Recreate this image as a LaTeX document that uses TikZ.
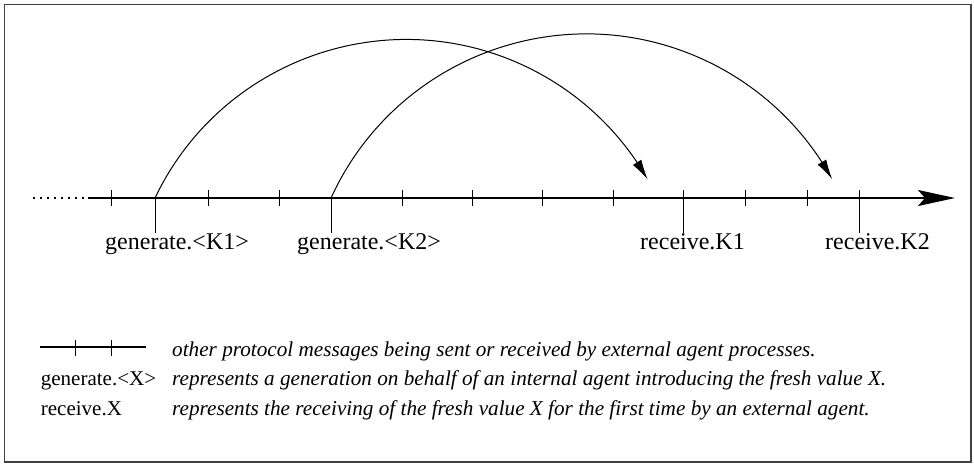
\documentclass[tikz,border=0pt]{standalone}
\usepackage{fontspec}
\setmainfont{Liberation Serif}
\usetikzlibrary{arrows.meta,bending}
\begin{document}
\begin{tikzpicture}[x=1pt,y=-1pt,
  tick/.style={line width=1pt},
  axisline/.style={line width=2pt},
  flow/.style={line width=1pt,-{Latex[length=20pt,width=10pt]}},
  lbl/.style={font=\fontsize{24}{28}\selectfont, anchor=base west, inner sep=0pt},
  leg/.style={font=\fontsize{21}{25}\selectfont, anchor=base west, inner sep=0pt},
  legit/.style={font=\fontsize{21.2}{25}\selectfont\itshape, anchor=base west, inner sep=0pt}]
\useasboundingbox (0,0) rectangle (974,467);
\draw[black!75, line width=1.5pt] (4.5,4.5) rectangle (971,462);

% time axis
\coordinate (d) at (33,198);
\coordinate (s) at (88,198);
\coordinate (e) at (955,198);
\draw[line width=1.5pt, dash pattern=on 1.5pt off 5.5pt] (d) -- (s);
\draw[axisline,-{Stealth[length=37pt,width=16pt,inset=7pt]}] (s) -- (e);
\foreach \x in {111,208,279,402,472,542,613,745,807}
  \draw[tick] (\x,190) -- (\x,206);

% events
\coordinate (g1) at (155,198);
\coordinate (g2) at (331,198);
\coordinate (r1) at (683,190);
\coordinate (r2) at (859,190);
\draw[tick] (g1) -- ++(0,35);
\draw[tick] (g2) -- ++(0,35);
\draw[tick] (r1) -- ++(0,43);
\draw[tick] (r2) -- ++(0,43);

\draw[flow] (g1) arc[start angle=-154.5, end angle=-29.84, radius=278.35];
\draw[flow] (g2) arc[start angle=-155.45, end angle=-28.83, radius=280.7];

\node[lbl] (lg1) at (105,249) {generate.<K1>};
\node[lbl] (lg2) at (297,249) {generate.<K2>};
\node[lbl] (lr1) at (640,249) {receive.K1};
\node[lbl] (lr2) at (825,249) {receive.K2};

% legend
\coordinate (la) at (40,347.3);
\coordinate (lb) at (146,347.3);
\draw[axisline] (la) -- (lb);
\draw[tick] (75,340) -- (75,356);
\draw[tick] (111,340) -- (111,356);
\node[legit] (t1) at (172,356.7) {other protocol messages being sent or received by external agent processes.};
\node[leg] (k2) at (40.7,385.5) {generate.<X>};
\node[legit] (t2) at (172,385.5) {represents a generation on behalf of an internal agent introducing the fresh value X.};
\node[leg] (k3) at (40.7,415) {receive.X};
\node[legit] (t3) at (172,415) {represents the receiving of the fresh value X for the first time by an external agent.};
\end{tikzpicture}
\end{document}
